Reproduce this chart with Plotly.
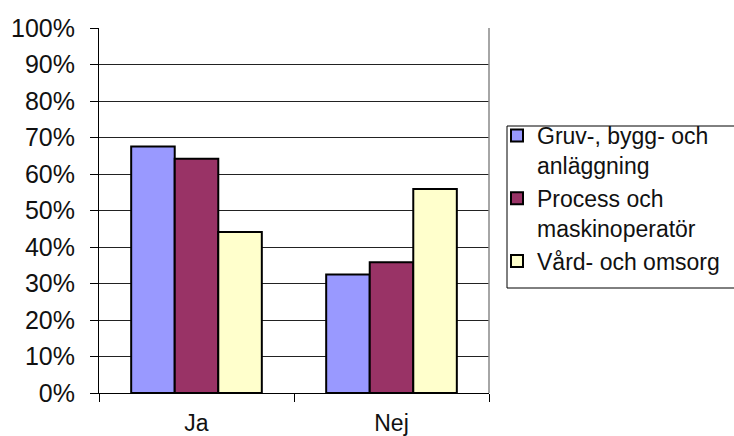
import plotly.graph_objects as go

categories = ["Ja", "Nej"]
series_names = [
    "Gruv-, bygg- och<br>anläggning",
    "Process och<br>maskinoperatör",
    "Vård- och omsorg",
]
gruv_values = [0.675, 0.325]
process_values = [0.642, 0.358]
vard_values = [0.441, 0.559]
series_colors = ["#9999FF", "#993366", "#FFFFCC"]

FONT = "Arial, Liberation Sans, sans-serif"
W, H = 734, 436

fig = go.Figure()
for name, vals, col in zip(series_names, [gruv_values, process_values, vard_values], series_colors):
    fig.add_trace(go.Bar(
        x=categories, y=vals, name=name,
        marker=dict(color=col, line=dict(color="#000000", width=2)),
    ))

fig.update_layout(
    width=W, height=H,
    margin=dict(l=99, r=245, t=28, b=43, autoexpand=False),
    paper_bgcolor="white", plot_bgcolor="white",
    barmode="group", bargap=0.33, bargroupgap=0,
    font=dict(family=FONT, color="#111111"),
    showlegend=True,
    legend=dict(
        xref="container", yref="container",
        x=497 / W, xanchor="left", y=1 - 114 / H, yanchor="top",
        font=dict(size=23, family=FONT, color="#111111"),
        bgcolor="rgba(0,0,0,0)", borderwidth=0, valign="top",
        tracegroupgap=0, itemclick=False,
    ),
    xaxis=dict(
        type="category", showgrid=False, showline=True, linecolor="#000000", linewidth=1,
        ticks="outside", ticklen=8, tickcolor="#000000", tickson="boundaries",
        tickfont=dict(size=23, family=FONT, color="#111111"),
        ticklabelstandoff=9,
    ),
    yaxis=dict(
        range=[0, 1], dtick=0.1, tickformat=".0%",
        showgrid=True, gridcolor="#222222", gridwidth=1,
        showline=True, linecolor="#000000", linewidth=1,
        ticks="outside", ticklen=8, tickcolor="#000000",
        tickfont=dict(size=25, family=FONT, color="#111111"),
        zeroline=False, ticklabelstandoff=10,
    ),
    shapes=[
        # right edge of the plot area
        dict(type="line", xref="paper", yref="paper", x0=1, x1=1, y0=0, y1=1,
             line=dict(color="#888888", width=1.5)),
        # legend frame, running off the right side
        dict(type="rect", xref="paper", yref="paper",
             x0=(507 - 99) / 390, x1=(760 - 99) / 390,
             y0=(393 - 288) / 365, y1=(393 - 126) / 365,
             line=dict(color="#000000", width=1), fillcolor="rgba(0,0,0,0)"),
    ],
)

fig.write_html("out.html")
